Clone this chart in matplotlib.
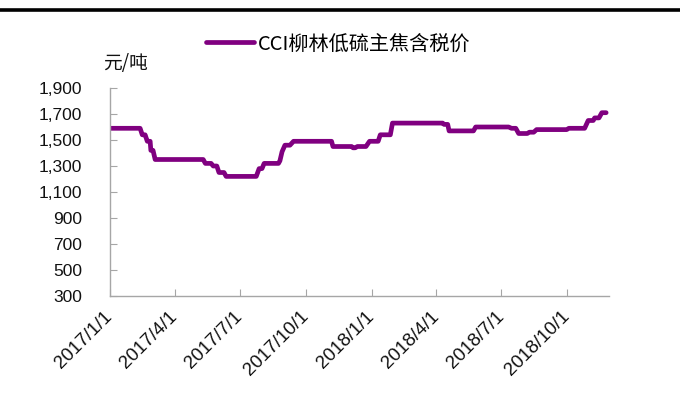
import matplotlib
matplotlib.use('Agg')
import matplotlib.pyplot as plt
from matplotlib.lines import Line2D
from matplotlib.ticker import FuncFormatter
import pandas as pd

series_name = 'CCI柳林低硫主焦含税价'
unit_label = '元/吨'

dates = [
    '2017-01-01', '2017-02-12', '2017-02-15', '2017-02-19', '2017-02-22', '2017-02-26',
    '2017-02-27', '2017-03-02', '2017-03-05', '2017-05-11', '2017-05-14', '2017-05-22',
    '2017-05-25', '2017-05-30', '2017-06-02', '2017-06-09', '2017-06-12', '2017-07-24',
    '2017-07-28', '2017-08-01', '2017-08-04', '2017-08-24', '2017-08-26', '2017-08-29',
    '2017-09-02', '2017-09-09', '2017-09-14', '2017-11-06', '2017-11-08', '2017-12-04',
    '2017-12-06', '2017-12-09', '2017-12-12', '2017-12-24', '2017-12-29', '2018-01-10',
    '2018-01-13', '2018-01-27', '2018-01-30', '2018-04-10', '2018-04-12', '2018-04-17',
    '2018-04-19', '2018-05-23', '2018-05-26', '2018-07-11', '2018-07-15', '2018-07-21',
    '2018-07-25', '2018-08-06', '2018-08-09', '2018-08-15', '2018-08-19', '2018-09-30',
    '2018-10-03', '2018-10-25', '2018-10-30', '2018-11-06', '2018-11-08', '2018-11-14',
    '2018-11-18', '2018-11-24',
]
prices = [
    1590, 1590, 1540, 1540, 1490, 1490,
    1420, 1420, 1350, 1350, 1320, 1320,
    1300, 1300, 1250, 1250, 1220, 1220,
    1280, 1280, 1320, 1320, 1340, 1410,
    1460, 1460, 1490, 1490, 1450, 1450,
    1440, 1440, 1450, 1450, 1490, 1490,
    1540, 1540, 1630, 1630, 1620, 1620,
    1570, 1570, 1600, 1600, 1590, 1590,
    1550, 1550, 1560, 1560, 1580, 1580,
    1590, 1590, 1650, 1650, 1670, 1670,
    1710, 1710,
]

tick_dates = ['2017-01-01', '2017-04-01', '2017-07-01', '2017-10-01',
              '2018-01-01', '2018-04-01', '2018-07-01', '2018-10-01']
tick_labels = ['2017/1/1', '2017/4/1', '2017/7/1', '2017/10/1',
               '2018/1/1', '2018/4/1', '2018/7/1', '2018/10/1']
y_ticks = [300, 500, 700, 900, 1100, 1300, 1500, 1700, 1900]

plt.rcParams['font.family'] = ['Noto Sans CJK SC', 'DejaVu Sans']

fig = plt.figure(figsize=(6.8, 4.18), dpi=100)
ax = fig.add_axes([110 / 680, 1 - 296 / 418, (609 - 110) / 680, (296 - 88) / 418])

ax.plot(pd.to_datetime(dates), prices, color='#800080', lw=3.4,
        solid_capstyle='round', solid_joinstyle='round', label=series_name)

ax.set_ylim(300, 1900)
ax.set_xlim(pd.Timestamp('2017-01-01'), pd.Timestamp('2018-11-28'))
ax.set_yticks(y_ticks)
ax.yaxis.set_major_formatter(FuncFormatter(lambda v, p: f'{int(v):,}'))
ax.set_xticks(pd.to_datetime(tick_dates))
ax.set_xticklabels(tick_labels, rotation=45, ha='right', va='center',
                   rotation_mode='anchor', family='Liberation Sans', fontsize=13.5)
for lab in ax.get_yticklabels():
    lab.set_family('Liberation Sans')
    lab.set_fontsize(12.5)

for s in ['top', 'right']:
    ax.spines[s].set_visible(False)
for s in ['left', 'bottom']:
    ax.spines[s].set_color('#a6a6a6')
    ax.spines[s].set_linewidth(1.0)
ax.tick_params(direction='in', length=5, color='#a6a6a6', labelcolor='#111111')
ax.tick_params(axis='y', pad=20)
ax.tick_params(axis='x', pad=13)

leg = fig.legend(handles=ax.get_lines(), labels=[series_name], loc='center',
                 bbox_to_anchor=(0.497, 1 - 44 / 418), frameon=False,
                 handlelength=2.4, handletextpad=0.2,
                 prop={'family': ['Noto Sans CJK SC', 'DejaVu Sans'], 'size': 14.5})

fig.text(103 / 680, 1 - 64 / 418, unit_label, ha='left', va='center',
         fontsize=13.5, family=['Noto Sans CJK SC', 'DejaVu Sans'], color='#111111')

fig.add_artist(Line2D([0.0, 1.0], [1 - 9.5 / 418, 1 - 9.5 / 418],
                      color='black', lw=2.6, transform=fig.transFigure))

fig.savefig('out.png', dpi=100)
